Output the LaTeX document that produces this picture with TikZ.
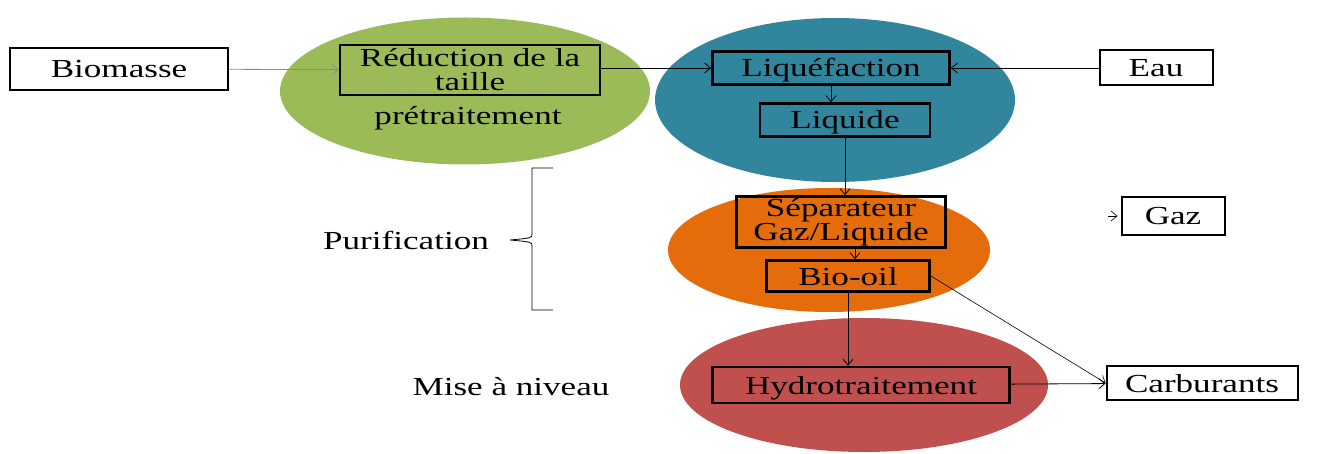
\documentclass[tikz,border=0pt]{standalone}
\usepackage{fontspec}
\setmainfont{Liberation Serif}[FakeStretch=1.35]
\usetikzlibrary{shapes.geometric,arrows.meta}
\definecolor{cgreen}{RGB}{155,187,89}
\definecolor{cblue}{RGB}{49,133,156}
\definecolor{corange}{RGB}{228,108,10}
\definecolor{cred}{RGB}{192,80,77}
\tikzset{
  blob/.style={ellipse, inner sep=0pt},
  box/.style={draw=black, line width=2.6pt, inner sep=1pt, align=center},
  one/.style={text height=18pt, text depth=0pt},
  obox/.style={draw=black, line width=2pt, inner sep=1pt, fill=white, one},
  arr/.style={line width=0.8pt, -{Straight Barb[length=6pt,width=10pt]}},
  plain/.style={line width=0.8pt},
  lbl/.style={inner sep=0pt}
}
\begin{document}
\begin{tikzpicture}[x=1pt,y=-1pt,font=\fontsize{26}{24}\selectfont]
\useasboundingbox (0,0) rectangle (1321,454);
% background ellipses
\node[blob, fill=cgreen, minimum width=370pt, minimum height=147pt] (eg) at (465,91) {};
\node[blob, fill=cblue, minimum width=360pt, minimum height=164pt] (eb) at (835,100) {};
\node[blob, fill=corange, minimum width=322pt, minimum height=124pt] (eo) at (829,250) {};
\node[blob, fill=cred, minimum width=368pt, minimum height=134pt] (er) at (864,385) {};
% boxes
\node[obox, minimum width=218pt, minimum height=42pt] (bio) at (119,69) {Biomasse};
\node[box, minimum width=260pt, minimum height=50pt] (red) at (470,70) {Réduction de la\\taille};
\node[lbl] (pre) at (468,118) {prétraitement};
\node[box, one, minimum width=237pt, minimum height=33pt] (liq) at (831,68) {Liquéfaction};
\node[obox, minimum width=113pt, minimum height=35pt] (eau) at (1156,68) {Eau};
\node[box, one, minimum width=170pt, minimum height=33pt] (liquide) at (845,120) {Liquide};
\node[box, minimum width=209pt, minimum height=51pt] (sep) at (841,222) {Séparateur\\Gaz/Liquide};
\node[box, one, minimum width=163pt, minimum height=31pt] (oil) at (848,276) {Bio-oil};
\node[obox, minimum width=103pt, minimum height=38pt] (gaz) at (1173,216) {Gaz};
\node[box, one, minimum width=297pt, minimum height=36pt] (hyd) at (861,385) {Hydrotraitement};
\node[obox, minimum width=191pt, minimum height=34pt] (carb) at (1202,383) {Carburants};
% side labels
\node[lbl] (pur) at (406,240) {Purification};
\node[lbl] (mise) at (511,387) {Mise à niveau};
% brace
\draw[plain] (553,168) -- (532,168) -- (532,234) .. controls (532,238) .. (510,240)
  .. controls (532,242) .. (532,246) -- (532,310) -- (553,310);
% connectors
\draw[arr, draw=black!45] (bio) -- (red);
\draw[arr] (red.east |- liq.west) -- (liq.west);
\draw[arr] (eau) -- (liq);
\draw[arr] (liq.south) -- (liq.south |- liquide.north);
\draw[arr] (liquide.south) -- (liquide.south |- sep.north);
\draw[arr] ([xshift=14pt]sep.south) -- ([xshift=14pt]sep.south |- oil.north);
\draw[arr] (oil.south) -- (oil.south |- hyd.north);
\draw[arr, line width=0.6pt] (oil.east) -- (carb.west);
\draw[arr] (hyd) -- (carb);
\coordinate (gazin) at (1108,216);
\draw[arr, line width=0.6pt] (gazin) -- ([xshift=-3pt]gaz.west);
\end{tikzpicture}
\end{document}
